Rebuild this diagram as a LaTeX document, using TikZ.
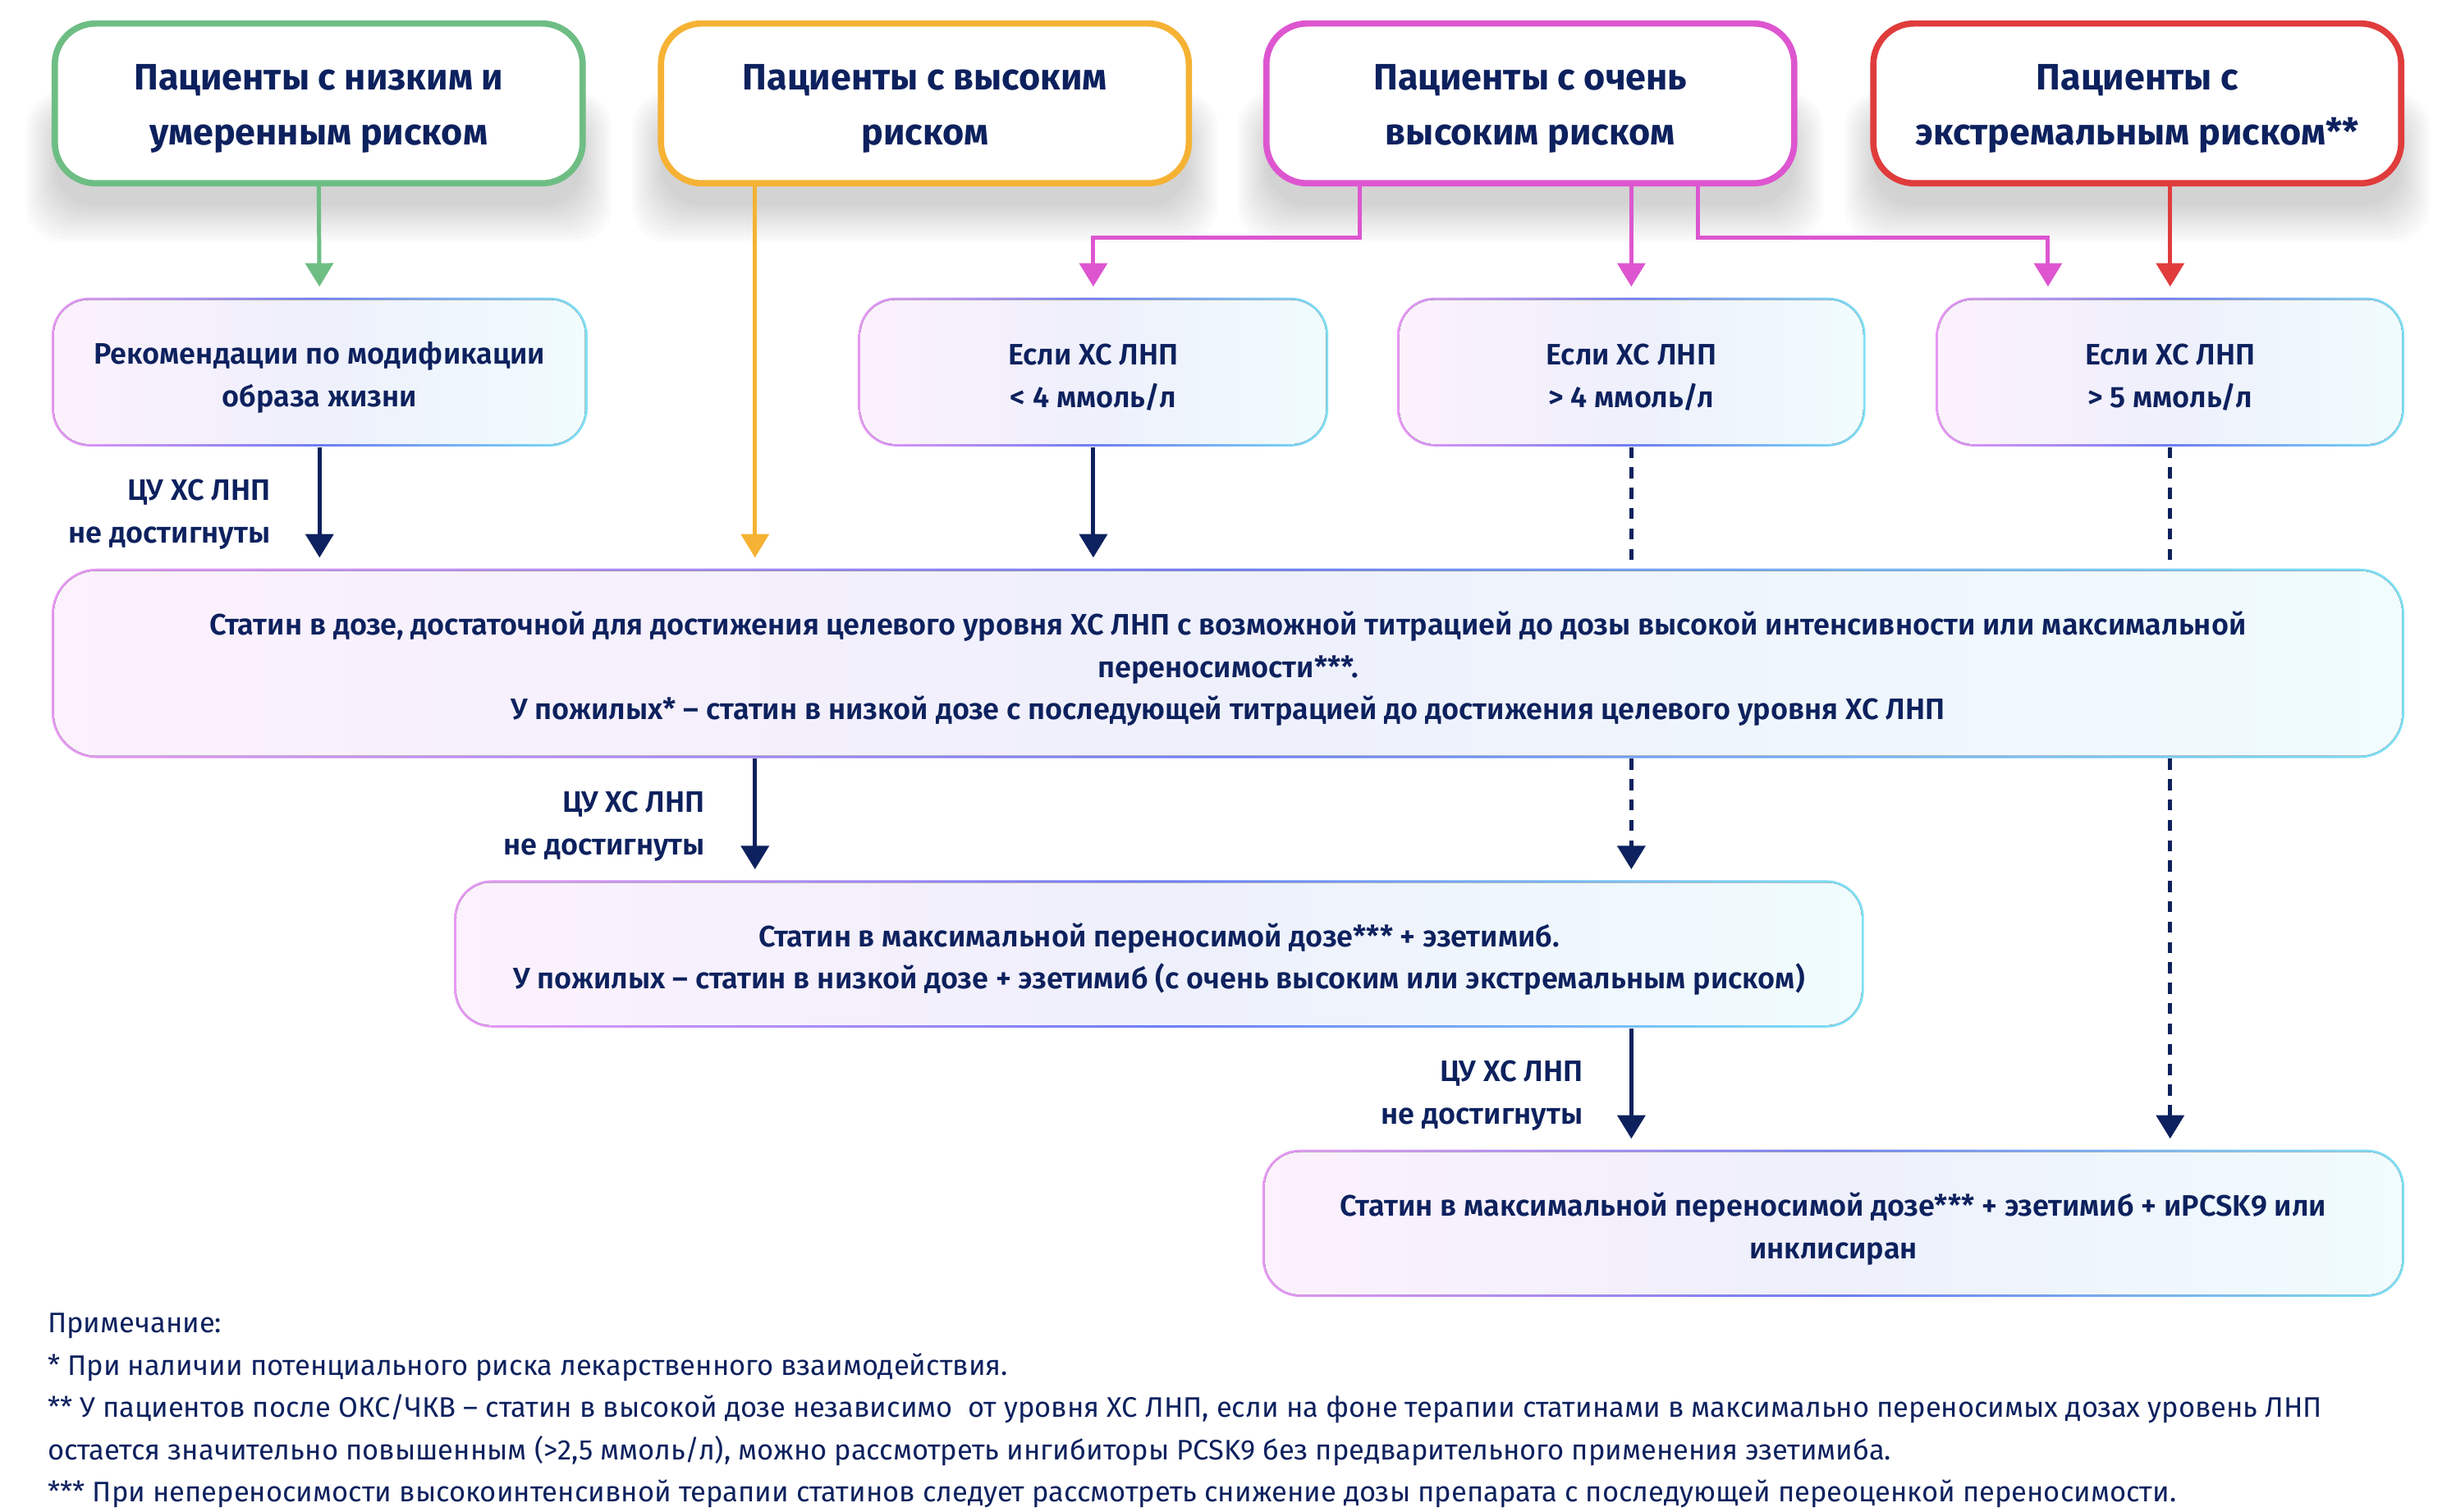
\documentclass[tikz,border=0pt]{standalone}
\usepackage{fontspec}
\setmainfont{Fira Sans}[BoldFont={Fira Sans SemiBold}]
\newfontface\hbold{Fira Sans Bold}
\usetikzlibrary{arrows.meta,calc}
\definecolor{navy}{RGB}{13,33,94}
\definecolor{cgreen}{RGB}{110,190,132}
\definecolor{corange}{RGB}{245,178,52}
\definecolor{cmag}{RGB}{221,86,208}
\definecolor{cred}{RGB}{224,60,60}
\definecolor{bL}{RGB}{232,152,245}
\definecolor{bM}{RGB}{110,125,245}
\definecolor{bR}{RGB}{125,225,245}
\definecolor{fL}{RGB}{252,241,253}
\definecolor{fM}{RGB}{238,240,252}
\definecolor{fR}{RGB}{240,252,253}
\newcommand\hsz{\fontsize{11.75pt}{17.5pt}\selectfont}
\newcommand\bsz{\fontsize{9.45pt}{13.5pt}\selectfont}
\newcommand\fsz{\fontsize{9.03pt}{13.5pt}\selectfont}
\tikzset{
  hbox/.style={draw=#1, line width=2pt, fill=white, rounded corners=13pt,
    minimum width=168.5pt, minimum height=51pt, inner sep=0pt},
  htxt/.style={inner sep=0pt, align=center, text=navy, font=\hbold\hsz},
  gbox/.style 2 args={inner sep=0pt,
    left color=bL, right color=bR, middle color=bM, rounded corners=#1,
    path picture={\fill[left color=fL, right color=fR, middle color=fM, rounded corners=#2]
      ($(path picture bounding box.south west)+(0.75pt,0.75pt)$) rectangle
      ($(path picture bounding box.north east)+(-0.75pt,-0.75pt)$);}},
  btxt/.style={inner sep=0pt, align=center, text=navy, font=\bfseries\bsz},
  lbl/.style={anchor=east, align=right, inner sep=0pt, text=navy, font=\bfseries\bsz},
  conn/.style={line width=1.3pt, draw=#1},
  arr/.style={line width=1.3pt, draw=#1, -{Triangle[width=8.8pt,length=7.5pt]}, shorten >=3.3pt},
  dsh/.style={dash pattern=on 3.5pt off 3pt},
}
\begin{document}
\begin{tikzpicture}[x=0.5pt,y=0.5pt]
\useasboundingbox (0,0) rectangle (1568,-965.3);
\fill[white] (0,0) rectangle (1568,-965.3);
% soft shadows under the header boxes
\foreach \cx in {203.5,590.5,977,1364.5}{
  \foreach \k in {0,...,10}{
    \pgfmathsetmacro\e{24-2.4*\k}
    \fill[black, opacity=0.014, rounded corners=12pt]
      (\cx-168-0.8*\e,-70+0.5*\e) rectangle (\cx+168+0.8*\e,-131-\e);
  }
}
% header boxes
\node[hbox=cgreen] (h1) at (203.5,-66) {};
\node[hbox=corange] (h2) at (590.5,-66) {};
\node[hbox=cmag] (h3) at (977,-66) {};
\node[hbox=cred] (h4) at (1364.5,-66) {};
\node[htxt] (th1) at ($(h1)+(0,-3.5)$) {Пациенты с низким и\\умеренным риском};
\node[htxt] (th2) at ($(h2)+(0,-3.5)$) {Пациенты с высоким\\риском};
\node[htxt] (th3) at ($(h3)+(0,-3.5)$) {Пациенты с очень\\высоким риском};
\node[htxt] (th4) at ($(h4)+(0,-3.5)$) {Пациенты с\\экстремальным риском**};
% second row
\node[gbox={12pt}{11.25pt}, minimum width=171pt, minimum height=47.5pt] (A) at (204,-237.5) {};
\node[gbox={12pt}{11.25pt}, minimum width=150pt, minimum height=47.5pt] (B) at (698,-237.5) {};
\node[gbox={12pt}{11.25pt}, minimum width=149.5pt, minimum height=47.5pt] (C) at (1041.5,-237.5) {};
\node[gbox={12pt}{11.25pt}, minimum width=149.5pt, minimum height=47.5pt] (D) at (1385.5,-237.5) {};
\node[btxt] (tA) at ($(A)+(0,-3.5)$) {Рекомендации по модификации\\образа жизни};
\node[btxt] (tB) at ($(B)+(0,-3.5)$) {Если ХС ЛНП\\< 4 ммоль/л};
\node[btxt] (tC) at ($(C)+(0,-3.5)$) {Если ХС ЛНП\\> 4 ммоль/л};
\node[btxt] (tD) at ($(D)+(0,-3.5)$) {Если ХС ЛНП\\> 5 ммоль/л};
% main boxes
\node[gbox={14.5pt}{13.75pt}, minimum width=751pt, minimum height=60.5pt] (E) at (784,-423.5) {};
\node[gbox={12pt}{11.25pt}, minimum width=450pt, minimum height=47pt] (F) at (740,-609) {};
\node[gbox={12pt}{11.25pt}, minimum width=364.5pt, minimum height=47pt] (G) at (1170.5,-781) {};
\node[btxt] (tE) at ($(E)+(0,-3.5)$) {Статин в дозе, достаточной для достижения целевого уровня ХС ЛНП с возможной титрацией до дозы высокой интенсивности или максимальной\\переносимости***.\\У пожилых* – статин в низкой дозе с последующей титрацией до достижения целевого уровня ХС ЛНП};
\node[btxt] (tF) at ($(F)+(0,-3.5)$) {Статин в максимальной переносимой дозе*** + эзетимиб.\\У пожилых – статин в низкой дозе + эзетимиб (с очень высоким или экстремальным риском)};
\node[btxt] (tG) at ($(G)+(0,-3.5)$) {Статин в максимальной переносимой дозе*** + эзетимиб + иPCSK9 или\\инклисиран};
% coloured connectors
\coordinate (o1) at ($(h2.south)+(-108.5,0)$);
\draw[arr=cgreen] (h1.south) -- (A.north);
\draw[arr=corange] (o1) -- (o1 |- E.north);
\draw[arr=cmag] ($(h3.south)+(-109,0)$) |- ($(B.north)+(0,38)$) -- (B.north);
\draw[arr=cmag] (h3.south -| C.north) -- (C.north);
\draw[arr=cmag] ($(h3.south)+(107,0)$) |- ($(D.north)+(-78,38)$) -- ($(D.north)+(-78,0)$);
\draw[arr=cred] (h4.south -| D.north) -- (D.north);
% navy connectors
\draw[arr=navy] (A.south) -- (A.south |- E.north);
\draw[arr=navy] (B.south) -- (B.south |- E.north);
\draw[conn=navy, dsh] (C.south) -- (C.south |- E.north);
\draw[conn=navy, dsh] (D.south) -- (D.south |- E.north);
\draw[arr=navy] (E.south -| o1) -- (o1 |- F.north);
\draw[arr=navy, dsh] (E.south -| C.south) -- (C.south |- F.north);
\draw[arr=navy, dsh] (E.south -| D.south) -- (D.south |- G.north);
\draw[arr=navy] (F.south -| C.south) -- (C.south |- G.north);
% labels
\node[lbl] (l1) at (173,-328.5) {ЦУ ХС ЛНП\\не достигнуты};
\node[lbl] (l2) at (450.5,-527.5) {ЦУ ХС ЛНП\\не достигнуты};
\node[lbl] (l3) at (1011,-699.5) {ЦУ ХС ЛНП\\не достигнуты};
% notes
\node[anchor=west, align=left, inner sep=0pt, text=navy, font=\fsz] (notes) at (30,-900.5) {Примечание:\\{*} При наличии потенциального риска лекарственного взаимодействия.\\{**} У пациентов после ОКС/ЧКВ – статин в высокой дозе независимо\ \ от уровня ХС ЛНП, если на фоне терапии статинами в максимально переносимых дозах уровень ЛНП\\остается значительно повышенным (>2,5 ммоль/л), можно рассмотреть ингибиторы PCSK9 без предварительного применения эзетимиба.\\{***} При непереносимости высокоинтенсивной терапии статинов следует рассмотреть снижение дозы препарата с последующей переоценкой переносимости.};
\end{tikzpicture}
\end{document}
